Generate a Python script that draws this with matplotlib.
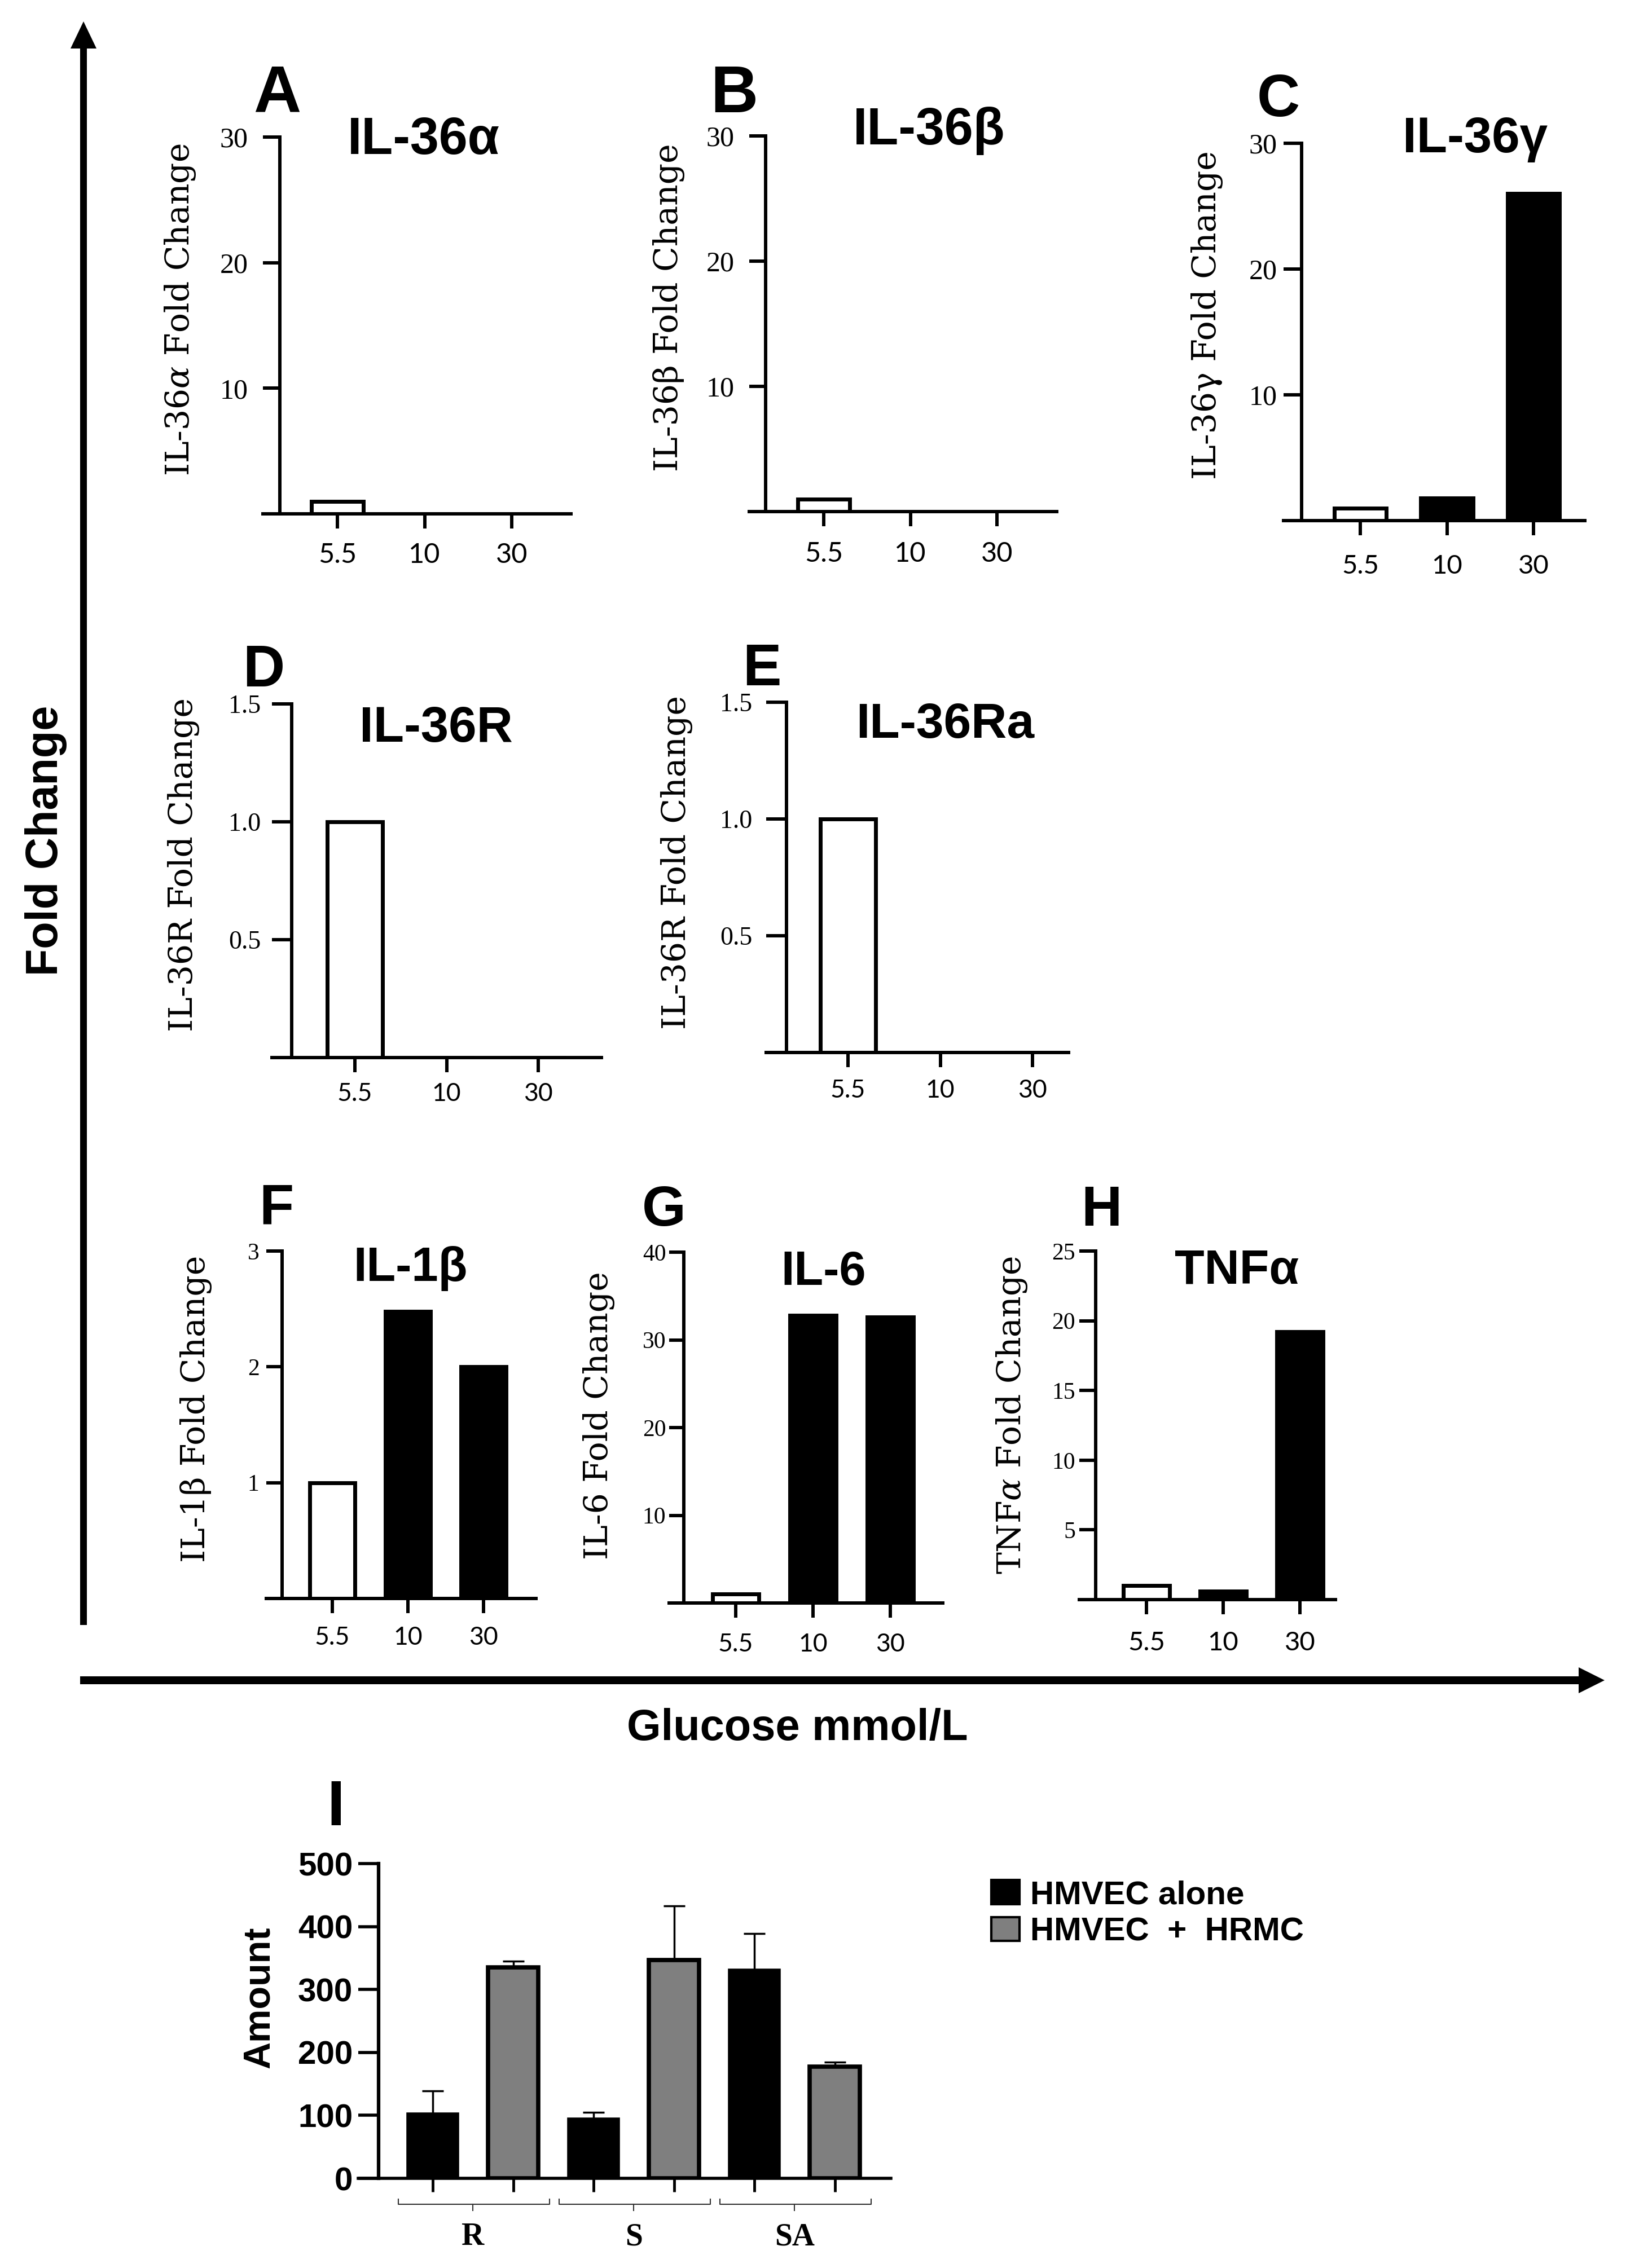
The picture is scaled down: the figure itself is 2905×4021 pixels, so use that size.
import numpy as np
import matplotlib
matplotlib.use('Agg')
import matplotlib.pyplot as plt
from matplotlib.patches import Patch, FancyArrow
from matplotlib.transforms import blended_transform_factory

plt.rcParams['mathtext.fontset'] = 'dejavuserif'

W, H = 2905, 4021
DPI = 100
PT = DPI / 72.0  # pixels per point

# ---- data ----
glucose = ['5.5', '10', '30']
il36a = [1.0, 0.0, 0.0]
il36b = [1.0, 0.0, 0.0]
il36g = [1.0, 1.8, 26.0]
il36r = [1.0, 0.0, 0.0]
il36ra = [1.0, 0.0, 0.0]
il1b = [1.0, 2.48, 2.0]
il6 = [1.0, 32.8, 32.6]
tnfa = [1.0, 0.6, 19.2]

groups = ['R', 'S', 'SA']
alone = [102, 94, 331]
alone_err = [37, 11, 58]
hrmc = [335, 347, 177]
hrmc_err = [10, 86, 8]
legend_labels = ['HMVEC alone', 'HMVEC  +  HRMC']

SANS = 'Liberation Sans'
SERIF = 'Liberation Serif'
LABEL_SERIF = 'DejaVu Serif'
TICK_SANS = 'Lato'

fig = plt.figure(figsize=(W / DPI, H / DPI), dpi=DPI)


def fx(x):
    return x / W


def fy(y):
    return 1 - y / H


# layout in pixels: axis start, spine, first tick, tick step, axis end, zero line, top line
panels = [
    dict(vals=il36a, letter='A', title='IL-36α', ylabel=r'IL-36$\alpha$ Fold Change',
         yticks=[10, 20, 30], ylab=['10', '20', '30'], ymax=30,
         box=(466, 496, 598, 154.5, 1012, 911, 243), letter_xy=(491, 199), lsize=84,
         title_xy=(751, 273), tsize=66, ylab_xy=(320, 549), ysize=36, ypad=19, xsize=35, xpad=18),
    dict(vals=il36b, letter='B', title='IL-36β', ylabel='IL-36β Fold Change',
         yticks=[10, 20, 30], ylab=['10', '20', '30'], ymax=30,
         box=(1328, 1357, 1460, 153.5, 1873, 907, 241), letter_xy=(1301, 199), lsize=84,
         title_xy=(1647, 256), tsize=66, ylab_xy=(1186, 545), ysize=36, ypad=19, xsize=35, xpad=19),
    dict(vals=il36g, letter='C', title='IL-36γ', ylabel='IL-36γ Fold Change',
         yticks=[10, 20, 30], ylab=['10', '20', '30'], ymax=30,
         box=(2275, 2307, 2411, 153.5, 2809, 923, 254), letter_xy=(2266, 206), lsize=76,
         title_xy=(2614, 270), tsize=64, ylab_xy=(2139, 559), ysize=36, ypad=8, xsize=34, xpad=24),
    dict(vals=il36r, letter='D', title='IL-36R', ylabel='IL-36R Fold Change',
         yticks=[0.5, 1.0, 1.5], ylab=['0.5', '1.0', '1.5'], ymax=1.5,
         box=(482, 517, 629, 162.5, 1066, 1875, 1248), letter_xy=(467, 1217), lsize=74,
         title_xy=(773, 1315), tsize=64, ylab_xy=(325, 1533), ysize=33, ypad=14, xsize=32, xpad=13),
    dict(vals=il36ra, letter='E', title='IL-36Ra', ylabel='IL-36R Fold Change',
         yticks=[0.5, 1.0, 1.5], ylab=['0.5', '1.0', '1.5'], ymax=1.5,
         box=(1358, 1394, 1503, 163.5, 1894, 1866, 1245), letter_xy=(1350, 1215), lsize=74,
         title_xy=(1675, 1308), tsize=63, ylab_xy=(1199, 1529), ysize=33, ypad=18, xsize=32, xpad=15),
    dict(vals=il1b, letter='F', title='IL-1β', ylabel='IL-1β Fold Change',
         yticks=[1, 2, 3], ylab=['1', '2', '3'], ymax=3,
         box=(472, 500, 589, 134, 950, 2834, 2218), letter_xy=(490, 2169), lsize=72,
         title_xy=(728, 2271), tsize=61, ylab_xy=(347, 2498), ysize=30, ypad=9, xsize=32, xpad=16),
    dict(vals=il6, letter='G', title='IL-6', ylabel='IL-6 Fold Change',
         yticks=[10, 20, 30, 40], ylab=['10', '20', '30', '40'], ymax=40,
         box=(1186, 1212, 1304, 137, 1671, 2842, 2220), letter_xy=(1177, 2173), lsize=72,
         title_xy=(1460, 2278), tsize=61, ylab_xy=(1061, 2510), ysize=30, ypad=4, xsize=32, xpad=19),
    dict(vals=tnfa, letter='H', title='TNFα', ylabel=r'TNF$\alpha$ Fold Change',
         yticks=[5, 10, 15, 20, 25], ylab=['5', '10', '15', '20', '25'], ymax=25,
         box=(1913, 1942, 2032, 136, 2367, 2836, 2218), letter_xy=(1952, 2173), lsize=72,
         title_xy=(2192, 2276), tsize=62, ylab_xy=(1793, 2509), ysize=30, ypad=5, xsize=34, xpad=21),
]

# ---- big arrows and shared labels ----
over = fig.add_axes([0, 0, 1, 1], zorder=-1)
over.set_xlim(0, W)
over.set_ylim(H, 0)
over.axis('off')
over.add_patch(FancyArrow(148, 2881, 0, 38 - 2881, width=12, head_width=46, head_length=48,
                          length_includes_head=True, color='black', lw=0))
over.add_patch(FancyArrow(142, 2979, 2844 - 142, 0, width=14, head_width=46, head_length=46,
                          length_includes_head=True, color='black', lw=0))
fig.text(fx(82), fy(1490), 'Fold Change', rotation=90, ha='center', va='center',
         fontfamily=SANS, fontweight='bold', fontsize=57)
fig.text(fx(1413), fy(3085), 'Glucose mmol/L', ha='center', va='baseline',
         fontfamily=SANS, fontweight='bold', fontsize=56)


def fold_panel(p):
    x0, sp, t0, step, x1, yz, yt = p['box']
    ax = fig.add_axes([fx(x0), fy(yz), (x1 - x0) / W, (yz - yt) / H])
    pos = np.arange(len(glucose))
    ax.bar(pos, p['vals'], width=0.6, color=['white', 'black', 'black'],
           edgecolor='black', linewidth=5)
    ax.set_xlim((x0 - t0) / step, (x1 - t0) / step)
    ax.set_ylim(0, p['ymax'])
    ax.spines[['top', 'right']].set_visible(False)
    ax.spines['left'].set_position(('data', (sp - t0) / step))
    ax.spines['left'].set_bounds(0, p['ymax'])
    for s in ('left', 'bottom'):
        ax.spines[s].set_linewidth(4.3)
    ax.set_xticks(pos, glucose)
    ax.set_yticks(p['yticks'], p['ylab'])
    ax.tick_params(axis='x', length=19, width=4.3, pad=p['xpad'], labelsize=p['xsize'],
                   labelfontfamily=TICK_SANS)
    ax.tick_params(axis='y', length=(sp - x0) / PT, width=4.3, pad=p['ypad'],
                   labelsize=p['ysize'], labelfontfamily=SERIF)
    ax.patch.set_alpha(0)
    lx, ly = p['letter_xy']
    fig.text(fx(lx), fy(ly), p['letter'], ha='center', va='baseline',
             fontfamily=SANS, fontweight='bold', fontsize=p['lsize'])
    tx, ty = p['title_xy']
    fig.text(fx(tx), fy(ty), p['title'], ha='center', va='baseline',
             fontfamily=SANS, fontweight='bold', fontsize=p['tsize'])
    yx, yy = p['ylab_xy']
    fig.text(fx(yx), fy(yy), p['ylabel'], rotation=90, ha='center', va='center',
             fontfamily=LABEL_SERIF, fontsize=42)
    return ax


for p in panels:
    fold_panel(p)

# ---- panel I ----
x0, sp, b0, step, x1, yz, yt = 635, 671, 767, 142.5, 1579, 3862, 3304
axi = fig.add_axes([fx(x0), fy(yz), (x1 - x0) / W, (yz - yt) / H])
pos = np.arange(len(groups)) * 2
axi.bar(pos, alone, width=0.62, color='black', edgecolor='black', linewidth=4)
axi.bar(pos + 1, hrmc, width=0.62, color='#7f7f7f', edgecolor='black', linewidth=5.5)
axi.errorbar(pos, alone, yerr=[np.zeros(len(alone)), alone_err], fmt='none', ecolor='black',
             elinewidth=2.5, capsize=14, capthick=2.5, zorder=0.5)
axi.errorbar(pos + 1, hrmc, yerr=[np.zeros(len(hrmc)), hrmc_err], fmt='none', ecolor='black',
             elinewidth=2.5, capsize=14, capthick=2.5, zorder=0.5)
axi.set_xlim((x0 - b0) / step, (x1 - b0) / step)
axi.set_ylim(0, 500)
axi.spines[['top', 'right']].set_visible(False)
axi.spines['left'].set_position(('data', (sp - b0) / step))
axi.spines['left'].set_bounds(0, 500)
axi.spines['left'].set_linewidth(4.5)
axi.spines['bottom'].set_linewidth(4)
axi.set_xticks(np.arange(len(groups) * 2), [''] * (len(groups) * 2))
axi.set_yticks(np.arange(0, 501, 100))
axi.tick_params(axis='x', length=17, width=3.5)
axi.tick_params(axis='y', length=(sp - x0) / PT, width=4, pad=7, labelsize=42)
for t in axi.get_yticklabels():
    t.set_fontfamily(SANS)
    t.set_fontweight('bold')
axi.patch.set_alpha(0)

tr = blended_transform_factory(axi.transData, axi.transAxes)
for g, name in enumerate(groups):
    xl, xr, mid = 2 * g - 0.43, 2 * g + 1.45, 2 * g + 0.5
    axi.plot([xl, xl, xr, xr], [-0.066, -0.082, -0.082, -0.066], transform=tr,
             color='#333333', lw=1.5, clip_on=False)
    axi.plot([mid, mid], [-0.082, -0.102], transform=tr, color='#333333', lw=1.5, clip_on=False)
    axi.text(mid, -0.2115, name, transform=tr, ha='center', va='baseline',
             fontfamily=SERIF, fontweight='bold', fontsize=40)

fig.text(fx(460), fy(3541), 'Amount', rotation=90, ha='center', va='center',
         fontfamily=SANS, fontweight='bold', fontsize=48)
fig.text(fx(595), fy(3236), 'I', ha='center', va='baseline',
         fontfamily=SANS, fontweight='bold', fontsize=82)

handles = [Patch(facecolor='black', edgecolor='black', linewidth=3),
           Patch(facecolor='#7f7f7f', edgecolor='black', linewidth=3)]
axi.legend(handles, legend_labels, loc='upper left', bbox_to_anchor=(fx(1757), fy(3333)),
           bbox_transform=fig.transFigure, frameon=False,
           prop=dict(family=SANS, weight='bold', size=42),
           handlelength=0.86, handleheight=0.74, handletextpad=0.33, labelspacing=0.2,
           borderpad=0, borderaxespad=0)

fig.savefig('out.png', dpi=DPI, facecolor='white')
